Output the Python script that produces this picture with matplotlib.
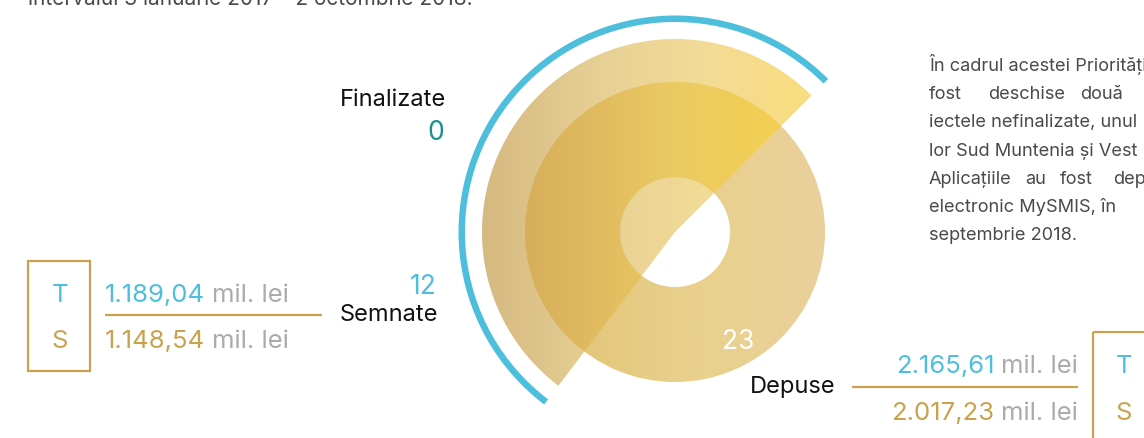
import numpy as np
import matplotlib
matplotlib.use("Agg")
import matplotlib.pyplot as plt
from matplotlib.patches import Wedge, Rectangle
from matplotlib.colors import LinearSegmentedColormap

# ---------------- data ----------------
stage_labels = ["Depuse", "Semnate", "Finalizate"]
stage_counts = [23, 12, 0]
total_values = [2165.61, 1189.04]      # T (mil. lei): Depuse, Semnate
eligible_values = [2017.23, 1148.54]   # S (mil. lei): Depuse, Semnate
box_letters = ["T", "S"]
value_unit = "mil. lei"
intro_tail = "intervalul 3 ianuarie 2017 – 2 octombrie 2018."
paragraph_lines = [
    ["În cadrul acestei Priorității"],
    ["fost", "deschise", "două"],
    ["iectele nefinalizate, unul"],
    ["lor Sud Muntenia și Vest"],
    ["Aplicațiile", "au", "fost", "depuse"],
    ["electronic MySMIS, în"],
    ["septembrie 2018."],
]

# ---------------- style ----------------
W, H = 1144, 439
FONT = ["Inter", "DejaVu Sans"]
plt.rcParams["font.family"] = FONT
BLUE = "#4dbfdc"
GOLD = "#c9a24f"
TEAL = "#17908f"
GREY = "#ababab"
DARK = "#111111"
PARA = "#4a4a4a"

fig = plt.figure(figsize=(W / 100, H / 100), dpi=100)
ax = fig.add_axes([0, 0, 1, 1])
ax.set_xlim(0, W)
ax.set_ylim(H, 0)
ax.axis("off")

cx, cy = 675, 233
r_hole, r_ring, r_sector = 55, 150, 193
r_arc, arc_w = 216.5, 6.5
start = 45.0
span = 360.0 * stage_counts[1] / stage_counts[0]
# inverted y axis -> visual CCW angles become negative data angles
th1, th2 = -(start + span), -start


def grad_fill(patch, stops, z):
    x0, x1 = stops[0][0], stops[-1][0]
    cmap = LinearSegmentedColormap.from_list(
        "g", [((x - x0) / (x1 - x0), c) for x, c in stops])
    img = cmap(np.linspace(0, 1, 512))[None, :, :]
    patch.set_facecolor("none")
    patch.set_edgecolor("none")
    ax.add_patch(patch)
    im = ax.imshow(img, extent=(x0, x1, cy + 250, cy - 250), aspect="auto",
                   interpolation="bilinear", zorder=z)
    im.set_clip_path(patch)


# Semnate sector (full pie wedge)
grad_fill(Wedge((cx, cy), r_sector, th1, th2),
          [(cx - r_sector, "#d5b981"), (600, "#e7d095"), (700, "#f2db96"),
           (cx + r_sector, "#fede72")], 2)
# Depuse ring
grad_fill(Wedge((cx, cy), r_ring, 0, 360, width=r_ring - r_hole),
          [(cx - r_ring, "#e0c070"), (cx, "#e8d08a"), (cx + r_ring, "#ead09c")], 3)
# overlap
grad_fill(Wedge((cx, cy), r_ring, th1, th2, width=r_ring - r_hole),
          [(cx - r_ring, "#d7ae5c"), (cx, "#ebca62"), (790, "#f5d050"),
           (cx + r_ring, "#f6d04c")], 4)
# Finalizate / blue arc
ax.add_patch(Wedge((cx, cy), r_arc, th1, th2, width=arc_w,
                   facecolor=BLUE, edgecolor="none", zorder=5))

LAB_FS = 17
NUM_FS = 19
# counts
ax.text(444, 140, str(stage_counts[2]), color=TEAL, fontsize=NUM_FS, ha="right", va="baseline")
ax.text(446, 106, stage_labels[2], color=DARK, fontsize=LAB_FS, ha="right", va="baseline")
ax.text(437, 294, str(stage_counts[1]), color=BLUE, fontsize=NUM_FS, ha="right", va="baseline")
ax.text(438, 321, stage_labels[1], color=DARK, fontsize=LAB_FS, ha="right", va="baseline")
ax.text(738, 349, str(stage_counts[0]), color="white", fontsize=NUM_FS, ha="center",
        va="baseline", zorder=6)
ax.text(750, 393, stage_labels[0], color=DARK, fontsize=LAB_FS, ha="left", va="baseline")


def ro(v):
    s = f"{v:,.2f}"
    return s.replace(",", "#").replace(".", ",").replace("#", ".")


fig.canvas.draw()
rend = fig.canvas.get_renderer()
inv = ax.transData.inverted()


def width_of(t):
    bb = t.get_window_extent(rend)
    a = inv.transform((bb.x0, bb.y0))
    b = inv.transform((bb.x1, bb.y0))
    return b[0] - a[0]


VAL_FS = 18.5
# left block (Semnate)
for i, (vals, col) in enumerate([(total_values, BLUE), (eligible_values, GOLD)]):
    yb = [302, 348][i]
    t = ax.text(105, yb, ro(vals[1]), color=col, fontsize=VAL_FS, va="baseline")
    w = width_of(t)
    ax.text(105 + w + 7, yb, value_unit, color=GREY, fontsize=VAL_FS, va="baseline")
    ax.text(60, yb, box_letters[i], color=col, fontsize=VAL_FS, ha="center", va="baseline")
ax.plot([105, 322], [316, 316], color=GOLD, lw=1.6, solid_capstyle="butt")
ax.add_patch(Rectangle((28, 262), 62, 110, facecolor="none", edgecolor=GOLD, lw=1.6))

# right block (Depuse)
for i, (vals, col) in enumerate([(total_values, BLUE), (eligible_values, GOLD)]):
    yb = [373, 420][i]
    u = ax.text(1078, yb, value_unit, color=GREY, fontsize=VAL_FS, ha="right", va="baseline")
    w = width_of(u)
    ax.text(1078 - w - 7, yb, ro(vals[0]), color=col, fontsize=VAL_FS, ha="right", va="baseline")
    ax.text(1124, yb, box_letters[i], color=col, fontsize=VAL_FS, ha="center", va="baseline")
ax.plot([852, 1078], [388, 388], color=GOLD, lw=1.6, solid_capstyle="butt")
ax.add_patch(Rectangle((1093, 333), 80, 130, facecolor="none", edgecolor=GOLD, lw=1.6,
                       clip_on=False))

# paragraph
PARA_FS = 13.1
ax.text(28, 5, intro_tail, color=PARA, fontsize=15, va="baseline")
just_x = {1: [929, 988, 1080], 4: [929, 1025, 1060, 1113]}
for k, words in enumerate(paragraph_lines):
    yb = 71 + k * 28.2
    if k in just_x:
        for wd, x in zip(words, just_x[k]):
            ax.text(x, yb, wd, color=PARA, fontsize=PARA_FS, va="baseline")
    else:
        ax.text(929, yb, words[0], color=PARA, fontsize=PARA_FS, va="baseline")

ax.set_xlim(0, W)
ax.set_ylim(H, 0)
fig.savefig("out.png", dpi=100)
